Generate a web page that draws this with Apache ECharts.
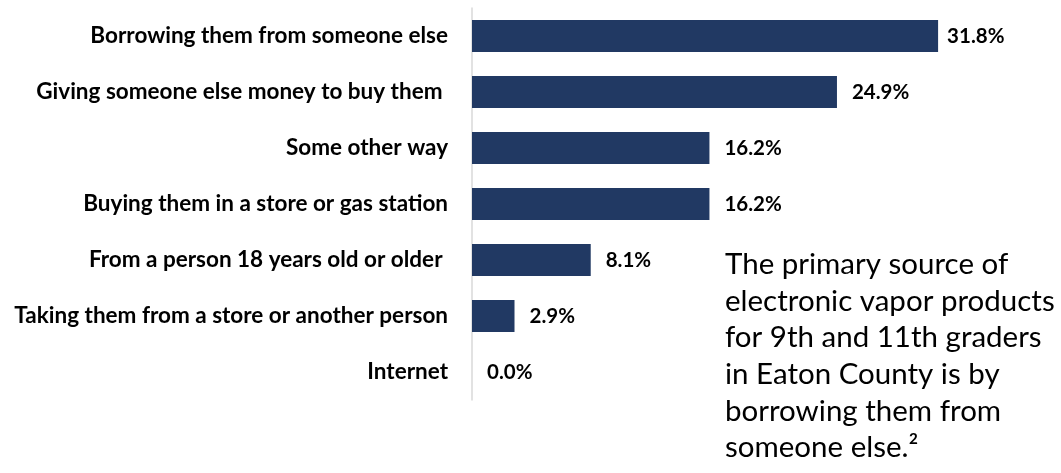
<!DOCTYPE html>
<html>
<head>
<meta charset="utf-8">
<script src="https://cdn.jsdelivr.net/npm/echarts@6/dist/echarts.min.js"></script>
<style>
html,body{margin:0;padding:0;background:#fff;}
#chart{width:1061px;height:473px;}
</style>
</head>
<body>
<div id="chart"></div>
<script>
var categories = [
  "Borrowing them from someone else",
  "Giving someone else money to buy them ",
  "Some other way",
  "Buying them in a store or gas station",
  "From a person 18 years old or older ",
  "Taking them from a store or another person",
  "Internet"
];
var values = [31.8, 24.9, 16.2, 16.2, 8.1, 2.9, 0.0];
var noteLines = [
  "The primary source of",
  "electronic vapor products",
  "for 9th and 11th graders",
  "in Eaton County is by",
  "borrowing them from",
  "someone else.\u00B2"
];

var chart = echarts.init(document.getElementById('chart'));
var seriesData = values.map(function (v, i) {
  var d = { value: v };
  if (i === 0) d.label = { distance: 9 };
  return d;
});
chart.setOption({
  animation: false,
  grid: { left: 472, top: 8, height: 392, right: 76 },
  xAxis: {
    type: 'value', min: 0, max: 35,
    show: false
  },
  yAxis: {
    type: 'category', inverse: true, data: categories,
    axisLine: { show: true, lineStyle: { color: '#d9d9d9', width: 1.5 } },
    axisTick: { show: false },
    axisLabel: {
      margin: 24, color: '#000', fontFamily: 'Lato', fontWeight: 'bold', fontSize: 22.5
    }
  },
  series: [{
    type: 'bar', data: seriesData,
    barCategoryGap: '43%',
    itemStyle: { color: '#213963' },
    label: {
      show: true, position: 'right', distance: 15,
      color: '#000', fontFamily: 'Lato', fontWeight: 'bold', fontSize: 20.5,
      formatter: function (p) { return p.value.toFixed(1) + '%'; }
    }
  }],
  graphic: [{
    type: 'text', left: 725, top: 246,
    style: {
      text: noteLines.join('\n'),
      font: '29.5px Lato',
      lineHeight: 36.7,
      fill: '#000'
    }
  }]
});
</script>
</body>
</html>
